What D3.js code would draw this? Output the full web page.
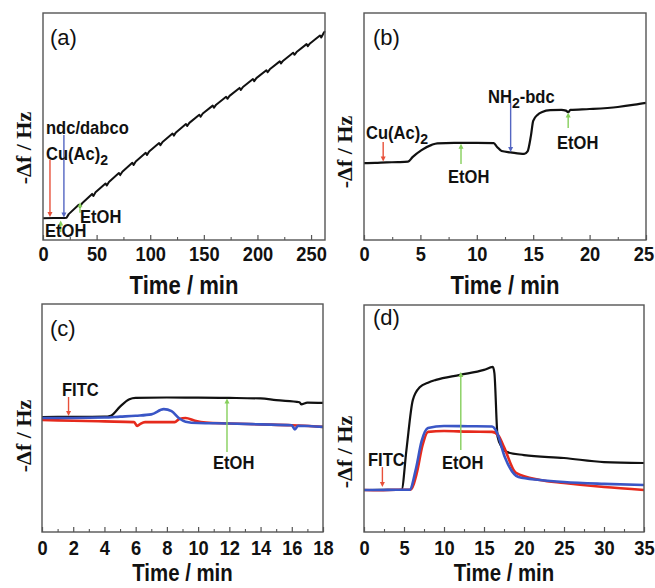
<!DOCTYPE html>
<html><head><meta charset="utf-8">
<script src="https://cdn.jsdelivr.net/npm/d3@7"></script>
<style>body{margin:0;background:#fff} svg{display:block}</style>
</head><body>
<svg id="fig" width="655" height="588"></svg>
<script>
// ---------- data (time in min, signal as relative -Δf, 0..100 of panel height) ----------
const aTime = [0,10,20,22,24,33.3,34.5,36.5,45.8,47,49,58.3,59.5,61.5,70.8,72,74,83.3,84.5,86.5,95.8,97,99,108.3,109.5,111.5,120.8,122,124,133.3,134.5,136.5,145.8,147,149,158.3,159.5,161.5,170.8,172,174,183.3,184.5,186.5,195.8,197,199,208.3,209.5,211.5,220.8,222,224,233.3,234.5,236.5,245.8,247,249,258.3,259.5,262,263];
const aSignal = [9.6,9.7,9.7,9.8,11.4,15.5,14.6,16.2,20.3,19.4,21.0,24.9,24.0,25.6,29.5,28.6,30.1,34.0,33.1,34.6,38.4,37.5,39.0,42.7,41.8,43.2,46.9,46.0,47.4,51.1,50.2,51.6,55.2,54.3,55.7,59.2,58.3,59.6,63.1,62.2,63.5,67.0,66.1,67.4,70.9,70.0,71.3,74.8,73.9,75.2,78.7,77.8,79.0,82.5,81.6,82.8,86.3,85.4,86.6,90.1,89.2,91.4,92.0];

const bTime = [0,1,2,3,3.9,4.3,5.1,6,6.5,8,10,11.5,11.8,12.2,13,14.2,14.5,14.8,15,15.4,15.8,16.5,17.5,17.9,18.1,18.3,20,22.5,24,25];
const bSignal = [33.9,34.0,34.2,34.3,34.5,36.5,39.6,41.9,42.6,42.8,42.8,42.7,41.0,39.2,38.6,37.9,39.0,46.0,52.5,55.2,56.4,57.2,57.3,57.0,56.3,57.3,57.7,58.6,59.6,60.4];

const cBlackTime = [0,2,4,4.4,5,5.6,6,8,10,12,14,15,16.5,16.6,17,18];
const cBlack = [50.4,50.5,50.6,51.0,55.0,58.2,58.8,59.0,58.9,58.8,58.6,57.8,56.9,56.0,56.7,56.6];
const cBlueTime = [0,2,4,5,6,7,7.8,8.3,8.8,9.2,10,12,14,16,16.2,16.4,18];
const cBlue = [50.0,50.0,50.2,50.6,51.0,51.6,53.9,53.0,49.8,48.4,47.8,47.6,47.2,46.8,45.0,46.6,46.1];
const cRedTime = [0,2,4,5.9,6.1,6.3,6.6,8.5,8.8,9.2,9.8,10.5,12,14,16,18];
const cRed = [49.1,48.8,48.5,48.2,46.5,47.4,48.2,48.2,49.6,50.0,48.8,48.0,47.6,47.2,46.8,46.1];

const dBlackTime = [0,2,4,4.7,5.3,6.1,7,8,9,12,15,16.1,16.3,16.7,17.2,17.9,20,25,30,35];
const dBlack = [18.5,18.6,18.5,18.6,36,58.1,63.9,65.8,67.0,69.2,71.4,72.7,70,41.9,37.5,35.2,33.9,32.6,30.8,30.4];
const dBlueTime = [0,2,4,5.7,6.5,7.2,8,10,13,16,16.6,17.6,19.3,22,25,30,35];
const dBlue = [18.5,18.5,18.6,18.6,28,40,45.8,46.7,46.6,46.5,44,33.0,24.2,22.9,22.0,21.2,20.7];
const dRedTime = [0,2,4,5.8,6.6,7.3,8,10,13,16,16.8,17.5,19,22,25,30,35];
const dRed = [18.5,18.4,18.6,18.6,26,38,44.1,44.5,44.2,44.1,42.5,37.4,26.0,22.9,21.6,19.8,18.5];

const aTicks = [0,50,100,150,200,250], aMinor = [25,75,125,175,225];
const bTicks = [0,5,10,15,20,25], bMinor = [2.5,7.5,12.5,17.5,22.5];
const cTicks = [0,2,4,6,8,10,12,14,16,18], cMinor = [1,3,5,7,9,11,13,15,17];
const dTicks = [0,5,10,15,20,25,30,35], dMinor = [2.5,7.5,12.5,17.5,22.5,27.5,32.5];

const C = {black:"#111", red:"#e62a1c", blue:"#3a56c6", green:"#86cf5c", arrRed:"#e8503a", arrBlue:"#5466c2"};

const svg = d3.select("#fig");
const SANS = "'Liberation Sans', Arial, sans-serif";

function txt(g, x, y, str, size, weight, sx, anchor){
  const t = g.append("text").attr("transform",`translate(${x},${y}) scale(${sx},1)`)
    .attr("font-family",SANS).attr("font-size",size).attr("font-weight",weight)
    .attr("text-anchor",anchor||"start").attr("fill","#111");
  if(str) t.text(str);
  return t;
}
function sub(t, main, s, after){
  t.append("tspan").text(main);
  t.append("tspan").attr("dy",5).attr("font-size","0.85em").text(s);
  if(after) t.append("tspan").attr("dy",-5).text(after);
}

function panel(o){
  const g = svg.append("g");
  const x = d3.scaleLinear().domain(o.xDomain).range([o.x0,o.x1]);
  const y = d3.scaleLinear().domain([0,100]).range([o.y1,o.y0]);
  const line = d3.line().x(d=>x(d[0])).y(d=>y(d[1])).curve(o.curve||d3.curveMonotoneX);
  o.series.forEach(s=>{
    g.append("path").datum(d3.zip(s.t,s.v)).attr("d",line)
      .attr("fill","none").attr("stroke",s.color).attr("stroke-width",s.w||2.2)
      .attr("stroke-linejoin","round");
  });
  o.arrows.forEach(a=>{
    const xx = x(a.t), ya = y(a.from), yb = y(a.to);
    const dir = yb>ya?1:-1;
    g.append("line").attr("x1",xx).attr("x2",xx).attr("y1",ya).attr("y2",yb-dir*4)
      .attr("stroke",a.color).attr("stroke-width",1.4);
    g.append("path").attr("d",`M${xx-2.5},${yb-dir*5}L${xx+2.5},${yb-dir*5}L${xx},${yb}Z`)
      .attr("fill",a.color);
  });
  g.append("rect").attr("x",o.x0).attr("y",o.y0).attr("width",o.x1-o.x0).attr("height",o.y1-o.y0)
    .attr("fill","none").attr("stroke","#555").attr("stroke-width",1.4);
  const ax = g.append("g").attr("transform",`translate(0,${o.y1})`)
    .call(d3.axisBottom(x).tickValues(o.ticks).tickSizeInner(-5).tickSizeOuter(0).tickPadding(o.pad||6));
  ax.select(".domain").remove();
  ax.selectAll("line").attr("stroke","#555").attr("stroke-width",1.2);
  ax.selectAll("text").attr("font-family",SANS).attr("font-size",21).attr("font-weight","bold")
    .attr("fill","#111").attr("transform","scale(0.87,1)");
  if(o.lastShift) ax.selectAll("text").filter(d=>d===o.xDomain[1]).attr("dx",o.lastShift);
  const mx = g.append("g").attr("transform",`translate(0,${o.y1})`)
    .call(d3.axisBottom(x).tickValues(o.minor).tickSizeInner(-3).tickSizeOuter(0).tickFormat(""));
  mx.select(".domain").remove();
  mx.selectAll("line").attr("stroke","#555").attr("stroke-width",1.1);
  txt(g,(o.x0+o.x1)/2,o.titleY,"Time / min",o.titleSize||26,"bold",0.85,"middle");
  g.append("text").attr("transform",`translate(${o.ylx},${o.yly}) rotate(-90)`)
    .attr("text-anchor","middle").attr("font-family","'Liberation Serif','Times New Roman',serif")
    .attr("font-weight","bold").attr("font-size",22).attr("fill","#111").text("-Δf / Hz");
  txt(g,o.lx,o.ly,o.letter,22,"normal",1,"start");
  o.notes.forEach(n=>n(g));
}

panel({x0:43,x1:325,y0:13,y1:240,xDomain:[0,263],ticks:aTicks,minor:aMinor,titleY:294,ylx:31,yly:148,
  letter:"(a)",lx:50,ly:45,curve:d3.curveLinear,
  series:[{t:aTime,v:aSignal,color:C.black,w:2}],
  arrows:[{t:6.5,from:35.2,to:10.1,color:C.arrRed},{t:19.5,from:46.3,to:9.9,color:C.arrBlue},
          {t:16.5,from:3.5,to:8.6,color:C.green},{t:34.5,from:12.0,to:16.6,color:C.green}],
  notes:[g=>txt(g,46,134,"ndc/dabco",18,"bold",0.92),
         g=>sub(txt(g,46,160,"",18,"bold",0.92),"Cu(Ac)","2"),
         g=>txt(g,45,237,"EtOH",18,"bold",0.92),
         g=>txt(g,80,223,"EtOH",18,"bold",0.92)]
});
panel({x0:364,x1:646,y0:13,y1:240,xDomain:[0,25],ticks:bTicks,minor:bMinor,titleY:294,ylx:352,yly:152,
  letter:"(b)",lx:373,ly:45,lastShift:-3,
  series:[{t:bTime,v:bSignal,color:C.black}],
  arrows:[{t:1.7,from:43.2,to:34.6,color:C.arrRed},{t:8.6,from:33.5,to:42.4,color:C.green},
          {t:13.0,from:60.4,to:38.8,color:C.arrBlue},{t:18.1,from:49.3,to:56.2,color:C.green}],
  notes:[g=>sub(txt(g,366,139,"",18,"bold",0.92),"Cu(Ac)","2"),
         g=>txt(g,448,183,"EtOH",18,"bold",0.92),
         g=>sub(txt(g,488,103,"",18,"bold",0.92),"NH","2","-bdc"),
         g=>txt(g,557,149,"EtOH",18,"bold",0.92)]
});
panel({x0:42,x1:323,y0:304,y1:532,xDomain:[0,18],ticks:cTicks,minor:cMinor,titleY:581,titleSize:24,pad:8,ylx:31,yly:436,
  letter:"(c)",lx:50,ly:336,
  series:[{t:cBlackTime,v:cBlack,color:C.black},{t:cRedTime,v:cRed,color:C.red,w:2.6},{t:cBlueTime,v:cBlue,color:C.blue,w:2.6}],
  arrows:[{t:1.7,from:59.2,to:50.9,color:C.arrRed},{t:11.85,from:35.1,to:58.5,color:C.green}],
  notes:[g=>txt(g,62,396,"FITC",18,"bold",0.92),
         g=>txt(g,213,469,"EtOH",18,"bold",0.92)]
});
panel({x0:364,x1:644,y0:305,y1:532,xDomain:[0,35],ticks:dTicks,minor:dMinor,titleY:581,titleSize:24,pad:8,ylx:352,yly:452,
  letter:"(d)",lx:373,ly:325,
  series:[{t:dBlackTime,v:dBlack,color:C.black},{t:dRedTime,v:dRed,color:C.red,w:2.6},{t:dBlueTime,v:dBlue,color:C.blue,w:2.6}],
  arrows:[{t:2.3,from:28.6,to:19.8,color:C.arrRed},{t:12.1,from:36.1,to:70.5,color:C.green}],
  notes:[g=>txt(g,368,466,"FITC",18,"bold",0.92),
         g=>txt(g,442,469,"EtOH",18,"bold",0.92)]
});
</script>
</body></html>
